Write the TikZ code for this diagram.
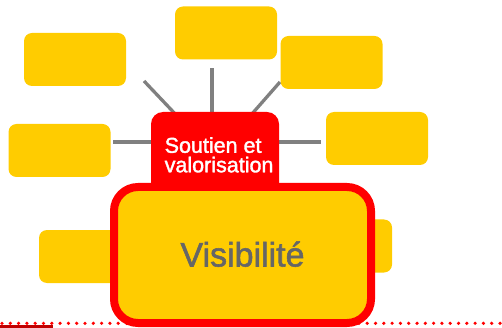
\documentclass[tikz,border=0pt]{standalone}
\usepackage{fontspec}
\setmainfont{Liberation Sans}
\newfontfamily\heavysans[FakeBold=1.6]{Liberation Sans}
\usetikzlibrary{backgrounds}
\definecolor{ygold}{HTML}{FFCC00}
\definecolor{rred}{HTML}{FF0000}
\definecolor{dred}{HTML}{C00000}
\definecolor{lgray}{HTML}{808080}
\definecolor{tgray}{HTML}{666666}
\tikzset{
  ybox/.style={fill=ygold, draw=none, rounded corners=8pt, inner sep=0pt, outer sep=0pt, minimum width=102pt, minimum height=53pt},
  redbox/.style={fill=rred, draw=none, rounded corners=12pt, inner sep=0pt, outer sep=0pt, minimum width=128pt, minimum height=88pt},
  visbox/.style={fill=ygold, draw=rred, line width=8pt, rounded corners=24pt, inner sep=0pt, outer sep=0pt, minimum width=257pt, minimum height=136pt},
  link/.style={draw=lgray, line width=3.3pt},
  soutientext/.style={text=white, inner sep=0pt, align=left, font=\heavysans\fontsize{21.5pt}{19.5pt}\selectfont},
  vistext/.style={text=tgray, inner sep=0pt, font=\heavysans\fontsize{34pt}{40pt}\selectfont},
  dotline/.style={draw=rred, line width=3.6pt, line cap=round, dash pattern=on 0pt off 8.3pt}
}
\begin{document}
\begin{tikzpicture}[x=1pt,y=-1pt]
\useasboundingbox (0,0) rectangle (502,328);
% bottom decorations
\fill[dred] (0,325) rectangle (53,328);
\path[dotline] (2,323.3) -- (502,323.3);
% satellite boxes
\node[ybox] (tl) at (75,59.5) {};
\node[ybox] (tc) at (226,33) {};
\node[ybox] (tr) at (331.5,62.5) {};
\node[ybox] (lf) at (59.5,150.5) {};
\node[ybox] (rt) at (377,138.5) {};
\node[ybox] (bl) at (90,256.5) {};
\node[ybox] (br) at (341,246) {};
% connector ends
\coordinate (etl) at (144,81);
\coordinate (etc) at (212,68);
\coordinate (etr) at (280,82);
\coordinate (elf) at (113,142);
\coordinate (ert) at (321,142);
% central red box
\node[redbox] (soutien) at (215,156) {};
\begin{scope}[on background layer]
\path[link] (soutien.center) -- (etl);
\path[link] (soutien.center -| etc) -- (etc);
\path[link] (soutien.center) -- (etr);
\path[link] (soutien.center |- elf) -- (elf);
\path[link] (soutien.center |- ert) -- (ert);
\end{scope}
\node[soutientext, anchor=north west] (stxt) at (164.5,137) {Soutien et\\valorisation};
% visibility box
\node[visbox] (vis) at (242.5,255) {};
\node[vistext, anchor=base] (vtxt) at (242.5,266.5) {Visibilité};
\end{tikzpicture}
\end{document}
